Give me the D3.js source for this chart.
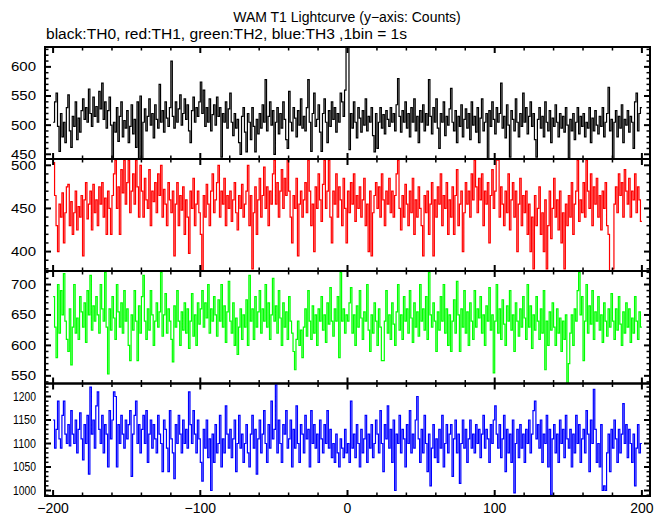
<!DOCTYPE html>
<html><head><meta charset="utf-8">
<script src="https://cdn.jsdelivr.net/npm/d3@7"></script>
<style>body{margin:0;background:#fff}svg{display:block}text{font-family:"Liberation Sans",Arial,Helvetica,sans-serif}</style>
</head><body><div id="chart"></div>
<script>
const titleText = "WAM T1 Lightcurve (y\u2212axis: Counts)";
const subtitleText = "black:TH0, red:TH1, green:TH2, blue:TH3 ,1bin = 1s";
const binStart = -200, binWidth = 1;
const xTickLabels = [-200, -100, 0, 100, 200];

const th0 = [
505,540,555,498,455,520,480,505,470,530, 552,490,462,515,498,540,475,512,488,525,
545,510,530,505,562,520,498,548,515,532, 505,558,528,572,510,540,495,525,548,500,
440,505,488,530,472,515,540,480,508,495, 525,470,498,535,485,510,462,540,440,550,
440,505,528,490,515,545,500,520,478,535, 510,495,570,505,525,488,540,512,498,530,
610,515,495,540,505,528,552,500,520,545, 510,535,490,470,525,548,505,530,515,540,
574,520,560,498,530,505,545,490,518,535, 500,548,515,530,445,520,505,540,495,528,
555,505,482,520,495,510,470,450,515,530, 488,454,520,505,475,530,498,454,510,485,
520,495,535,505,578,490,515,540,500,525, 450,505,530,485,520,495,540,510,475,460,
558,505,490,530,512,480,525,500,545,495, 515,490,530,578,505,455,520,555,498,510,
535,488,455,520,545,505,470,525,498,540, 510,530,488,520,505,555,540,515,560,645,
640,458,520,495,540,505,478,530,512,488, 525,500,545,490,515,505,530,482,454,520,
460,505,530,495,518,485,525,510,498,530, 505,520,490,535,580,515,488,525,505,540,
495,520,480,530,505,545,490,515,470,525, 505,535,490,520,500,578,515,485,530,505,
545,495,460,520,505,540,482,515,500,528, 563,505,490,525,470,515,498,535,480,510,
528,495,520,475,540,500,515,488,530,470, 512,545,490,505,520,440,525,498,540,510,
485,530,505,520,572,495,515,478,535,500, 445,525,510,490,545,505,480,520,498,555,
505,530,485,515,540,498,520,475,445,510, 530,495,515,480,540,505,490,525,470,512,
498,535,505,480,520,495,515,488,530,500, 443,510,490,520,475,505,530,485,515,498,
520,480,505,495,530,470,512,490,525,500, 485,515,498,530,480,505,520,565,490,510,
440,505,525,480,515,495,535,470,510,500, 525,488,515,505,460,540,555,490,520,530];

const th1 = [
503,465,430,400,455,440,468,410,445,475, 478,430,458,420,445,470,425,452,440,465,
395,460,480,438,455,470,425,478,445,460, 430,475,455,480,440,462,420,470,450,420,
465,490,506,450,475,420,495,468,506,455, 480,506,445,470,490,455,506,475,440,500,
470,440,485,460,450,495,430,470,458,480, 445,490,465,500,440,472,455,430,480,460,
445,470,395,455,480,430,465,448,475,420, 460,440,398,470,450,485,430,455,470,445,
420,372,465,440,478,455,430,470,490,445, 460,480,500,440,470,455,485,430,465,450,
470,435,460,480,445,425,465,450,478,440, 455,470,500,430,465,380,445,475,420,460,
485,440,465,498,450,475,430,470,455,490, 506,455,480,440,470,495,450,485,465,506,
470,440,410,465,450,485,395,455,470,440, 460,480,445,506,470,430,455,400,475,450,
490,460,435,478,506,450,470,506,440,410, 470,455,490,440,475,460,430,485,450,410,
470,445,480,455,490,435,465,450,475,440, 460,485,430,455,400,470,395,445,465,480,
450,475,440,490,460,430,470,455,485,445, 470,440,465,490,506,450,425,465,440,478,
455,430,470,445,485,420,460,440,475,450, 430,395,465,445,470,420,455,480,395,460,
440,475,455,490,430,465,450,480,420,460, 440,475,420,465,495,430,455,470,400,445,
480,455,470,440,490,460,506,475,445,485, 460,490,430,470,455,480,410,465,495,450,
470,506,506,440,475,455,430,470,445,490, 425,460,480,440,470,400,455,485,430,465,
445,470,420,455,400,440,380,465,430,450, 475,420,445,400,460,380,430,470,415,450,
485,440,460,425,470,410,445,380,455,430, 465,440,480,420,455,470,506,435,460,445,
480,440,506,470,450,490,430,475,455,485, 440,465,425,470,450,480,430,420,372,374,
380,455,475,445,490,465,480,440,495,470, 455,485,440,470,460,490,445,475,460,435];

const th2 = [
680,630,580,700,620,690,650,718,640,610, 590,660,568,630,700,620,645,610,680,655,
630,670,605,690,650,715,625,665,640,680, 650,620,700,660,640,720,630,553,660,625,
680,645,610,700,655,630,670,620,690,640, 660,600,575,650,625,690,640,575,665,620,
680,715,640,610,660,625,690,650,600,640, 670,630,655,720,615,650,685,620,660,640,
610,573,665,630,690,640,600,655,625,670, 620,660,595,640,685,615,650,600,670,635,
660,690,630,670,645,700,620,660,640,680, 650,615,675,640,700,630,665,605,655,705,
640,620,670,600,645,585,630,660,610,650, 630,675,600,715,640,660,610,680,630,655,
690,620,660,640,700,630,670,610,650,710, 640,665,620,690,645,600,670,630,655,610,
680,640,620,590,560,610,640,600,625,580, 630,660,615,690,640,610,665,620,650,600,
660,640,680,625,650,605,670,635,695,640, 615,660,640,680,580,720,640,660,620,650,
640,670,695,620,650,600,665,630,690,645, 610,655,640,700,625,590,650,620,670,640,
600,660,630,575,575,640,690,620,650,610, 670,635,600,655,700,625,650,610,680,640,
660,620,690,645,605,670,630,655,615,700, 640,660,625,680,610,720,650,630,670,640,
590,655,625,680,640,700,620,660,600,650, 590,640,675,620,705,650,590,660,630,690,
620,655,600,670,640,610,690,630,660,645, 680,620,650,600,665,640,695,625,650,555,
640,700,620,660,610,675,635,600,665,640, 690,625,650,590,670,640,615,660,630,680,
645,610,700,630,665,595,650,625,680,640, 610,660,620,690,560,640,600,655,625,670,
630,600,660,620,645,590,640,610,650,534, 570,620,650,600,660,640,690,720,650,680,
575,640,700,620,665,635,690,610,655,640, 680,625,650,605,670,640,615,660,630,685,
640,610,660,625,680,635,600,655,620,670, 630,660,605,645,620,680,640,610,655,630];

const th3 = [
1150,1090,1130,1190,1110,1090,1160,1190,1120,1100, 1140,1095,1170,1120,1100,1150,1080,1130,1165,1110,
1065,1140,1100,1160,1035,1220,1120,1150,1090,1180, 1210,1130,1100,1160,1080,1140,1120,1050,1170,1110,
1150,1210,1200,1050,1140,1100,1160,1120,1090,1150, 1110,1140,1170,1030,1120,1160,1190,1100,1140,1080,
1130,1160,1100,1170,1060,1120,1150,1090,1140,1110, 1080,1160,1120,1100,1040,1150,1130,1090,1040,1170,
1110,1080,1025,1140,1100,1160,1120,1080,1150,1100, 1130,1090,1210,1140,1100,1170,1120,1080,1150,1110,
1060,1020,1130,1090,1150,1070,1110,1000,1120,1060, 1140,1080,1100,1160,1050,1110,1080,1180,1120,1090,
1130,1070,1110,1150,1040,1100,1160,1090,1120,1060, 1100,1140,1080,1050,1120,1160,1090,1130,1035,1110,
1150,1080,1120,1170,1100,1060,1140,1090,1190,1110, 1130,1225,1080,1150,1100,1060,1140,1120,1170,1090,
1110,1150,1050,1130,1090,1180,1100,1060,1140,1120, 1080,1160,1110,1130,1050,1170,1100,1140,1090,1120,
1060,1150,1110,1080,1140,1100,1170,1090,1130,1070, 1100,1060,1120,1080,1050,1110,1090,1070,1130,1080,
1100,1060,1190,1090,1120,1070,1140,1100,1050,1130, 1080,1110,1160,1060,1120,1090,1140,1070,1100,1150,
1120,1080,1170,1100,1040,1140,1110,1180,1090,1130, 1060,1150,1000,1120,1100,1160,1080,1130,1110,1050,
1140,1100,1170,1080,1120,1090,1150,1200,1110,1060, 1130,1080,1160,1100,1040,1120,1010,1090,1140,1070,
1110,1060,1130,1090,1160,1050,1100,1140,1080,1120, 1140,1030,1110,1150,1080,1120,1015,1100,1150,1090,
1130,1060,1110,1150,1090,1120,1080,1140,1100,1130, 1070,1120,1160,1090,1130,1110,1060,1140,1100,1150,
1180,1120,1090,1140,1070,1110,1160,1040,1130,1080, 1120,1060,1150,995,1100,1130,1070,1140,1090,1120,
1060,1130,1100,1150,1080,1120,1170,1190,1110,1140, 1090,1150,1060,1120,1100,1160,1050,1130,990,1110,
1140,1080,1120,1060,1150,1100,1130,1070,1160,1110, 1090,1130,1050,1120,1080,1160,1100,1140,1060,1110,
1130,1080,1170,1120,1040,1150,1100,1215,1130,1060, 1100,1050,1140,1000,1010,1000,1080,1120,1040,1130,
1090,1150,1110,1060,1130,1080,1120,1185,1100,1140, 1070,1130,1100,1060,1120,1010,1090,1140,1080,1100];

const seriesValues = [th0, th1, th2, th3];
const seriesColors = ["#000000", "#ff0000", "#00ff00", "#0000ff"];
const yDomains = [[441.9, 634.1], [377.5, 507.3], [537.4, 722.2], [988.3, 1227.7]];
const yTickLabels = [[450, 500, 550, 600], [400, 450, 500], [550, 600, 650, 700], [1000, 1050, 1100, 1150, 1200]];

const W = 669, H = 515;
const left = 45, right = 650;
const panelEdges = [47, 159, 271, 383.5, 496];

const svg = d3.select("#chart").append("svg").attr("width", W).attr("height", H);

svg.append("text").attr("x", 347).attr("y", 22).attr("text-anchor", "middle")
  .attr("font-size", 14).attr("fill", "#000").text(titleText);
svg.append("text").attr("x", 46).attr("y", 39).attr("text-anchor", "start")
  .attr("font-size", 14).attr("fill", "#000")
  .attr("textLength", 361).attr("lengthAdjust", "spacingAndGlyphs").text(subtitleText);

const x = d3.scaleLinear().domain([-205.5, 205.5]).range([left, right]);

seriesValues.forEach((vals, p) => {
  const top = panelEdges[p], bot = panelEdges[p + 1];
  const y = d3.scaleLinear().domain(yDomains[p]).range([bot, top]);
  const g = svg.append("g");
  const clipId = "clip" + p;
  svg.append("clipPath").attr("id", clipId).append("rect")
    .attr("x", left).attr("y", top).attr("width", right - left).attr("height", bot - top);

  const pts = vals.map((v, i) => [binStart + i * binWidth, v]);
  pts.push([binStart + vals.length * binWidth, vals[vals.length - 1]]);
  const line = d3.line().x(d => x(d[0])).y(d => y(d[1])).curve(d3.curveStepAfter);
  g.append("path").datum(pts).attr("d", line).attr("fill", "none")
    .attr("stroke", seriesColors[p]).attr("stroke-width", 1.2)
    .attr("clip-path", `url(#${clipId})`);

  const xMinor = d3.range(-200, 201, 20);
  xMinor.forEach(v => {
    const major = v % 100 === 0;
    const len = major ? 6 : 3.5;
    const sw = major ? 2 : 1.5;
    g.append("line").attr("x1", x(v)).attr("x2", x(v)).attr("y1", bot).attr("y2", bot - len).attr("stroke", "#000").attr("stroke-width", sw);
    g.append("line").attr("x1", x(v)).attr("x2", x(v)).attr("y1", top).attr("y2", top + len).attr("stroke", "#000").attr("stroke-width", sw);
  });
  const yt = yTickLabels[p];
  const step = 10;
  const ymin = Math.ceil(yDomains[p][0] / step) * step;
  d3.range(ymin, yDomains[p][1], step).forEach(v => {
    const major = yt.includes(v);
    const len = major ? 6 : 3.5;
    const sw = major ? 2 : 1.5;
    g.append("line").attr("x1", left).attr("x2", left + len).attr("y1", y(v)).attr("y2", y(v)).attr("stroke", "#000").attr("stroke-width", sw);
    g.append("line").attr("x1", right).attr("x2", right - len).attr("y1", y(v)).attr("y2", y(v)).attr("stroke", "#000").attr("stroke-width", sw);
  });
  yt.forEach(v => {
    const s = String(v);
    g.append("text").attr("x", 36).attr("y", y(v)).attr("dy", "0.35em")
      .attr("text-anchor", "end").attr("font-size", 12.5).attr("fill", "#000")
      .attr("textLength", s.length === 4 ? 23 : 25).attr("lengthAdjust", "spacingAndGlyphs").text(s);
  });
  g.append("rect").attr("x", left).attr("y", top).attr("width", right - left).attr("height", bot - top)
    .attr("fill", "none").attr("stroke", "#000").attr("stroke-width", 2);
});

xTickLabels.forEach(v => {
  svg.append("text").attr("x", x(v)).attr("y", 513).attr("text-anchor", "middle")
    .attr("font-size", 14).attr("fill", "#000").text(v < 0 ? "\u2212" + Math.abs(v) : String(v));
});
</script></body></html>
